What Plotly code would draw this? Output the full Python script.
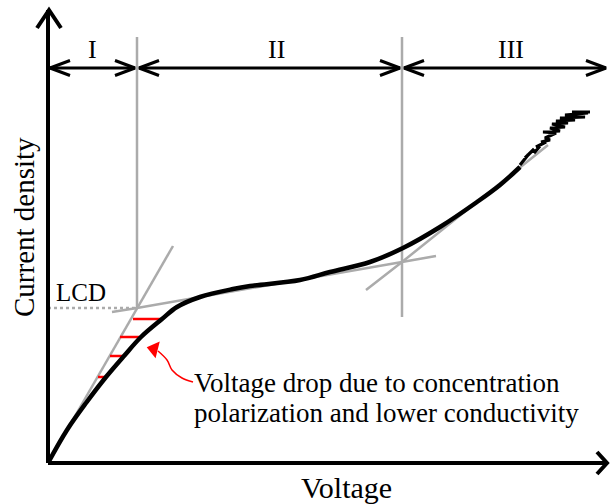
import plotly.graph_objects as go

# ---- data (schematic units: voltage V, current density J) ----
curve_v = [0, 19, 38, 58, 76, 93, 114, 129, 152, 185, 202, 252, 282, 322, 355, 392, 429, 452, 472]
curve_j = [0, 33, 60, 86, 107, 126, 144, 156, 166, 174, 177, 183, 191, 201, 215, 236, 261, 278, 296]
noise_v = [472, 480, 477, 485, 487, 492, 488, 498, 493, 502, 497, 508, 495, 512, 502, 517, 504, 520, 508, 527, 512, 537, 517, 540, 524, 542]
noise_j = [298, 308, 305, 313, 311, 317, 316, 321, 321, 323, 325, 330, 331, 332, 335, 336, 339, 340, 342, 343, 345, 346, 348, 350, 351, 351]

region_bounds = [0, 89, 354, 560]
region_labels = ["I", "II", "III"]
lcd_v, lcd_j = 89, 155
tangent1_v = [0, 89, 125]
tangent1_j = [0, 155, 217]
tangent2_v = [64, 89, 354, 388]
tangent2_j = [151, 155, 201, 207]
tangent3_v = [318, 354, 500]
tangent3_j = [173, 201, 318]
red_j = [144, 126, 107, 86]
red_v0 = [85, 72, 62, 50]
red_v1 = [114, 93, 76, 58]
note_v = [145, 134, 124, 119, 110]
note_j = [81, 85, 93, 103, 112]

BLACK = "black"
GRAY = "#ababab"
RED = "#ff0000"
FONT = "Liberation Serif"

fig = go.Figure()

def line(xs, ys, color, width, dash="solid", shape="linear"):
    fig.add_trace(go.Scatter(x=xs, y=ys, mode="lines",
                             line=dict(color=color, width=width, dash=dash, shape=shape),
                             hoverinfo="skip"))

top_j = 426
arrow_j = 395
# vertical region boundaries (gray)
line([region_bounds[1], region_bounds[1]], [top_j, lcd_j], GRAY, 2.5)
line([region_bounds[2], region_bounds[2]], [top_j, 146], GRAY, 2.5)
# LCD dotted line
line([0, lcd_v], [lcd_j, lcd_j], GRAY, 2.5, dash="dot")
# tangent lines
line(tangent1_v, tangent1_j, GRAY, 2.5)
line(tangent2_v, tangent2_j, GRAY, 2.5)
line(tangent3_v, tangent3_j, GRAY, 2.5)
# red voltage-drop lines
for j, a, b in zip(red_j, red_v0, red_v1):
    line([a, b], [j, j], RED, 2.5)
# main curve
line(curve_v, curve_j, BLACK, 4.5, shape="spline")
line(noise_v, noise_j, BLACK, 3.2)

# axes with arrowheads
line([0, 0], [0, 453], BLACK, 4)
line([0, 559], [0, 0], BLACK, 4)
line([-11, 1, 13], [435, 453, 435], BLACK, 4)
line([549, 559, 549], [11, 0, -11], BLACK, 4)

# region double arrows
for i in range(3):
    a = region_bounds[i] + 2
    b = region_bounds[i + 1] - 2
    line([a, b], [arrow_j, arrow_j], BLACK, 3)
    line([a + 20, a, a + 20], [arrow_j + 7.5, arrow_j, arrow_j - 7.5], BLACK, 3)
    line([b - 20, b, b - 20], [arrow_j + 7.5, arrow_j, arrow_j - 7.5], BLACK, 3)

# red curved arrow
line(note_v, note_j, RED, 1.5, shape="spline")
fig.add_trace(go.Scatter(x=[106], y=[114], mode="markers",
                         marker=dict(symbol="triangle-up", size=15, color=RED, angle=-76),
                         hoverinfo="skip"))

ann = []
def text(x, y, s, size, xanchor="center", angle=0):
    ann.append(dict(x=x, y=y, xref="x", yref="y", text=s, showarrow=False,
                    xanchor=xanchor, yanchor="middle", textangle=angle,
                    font=dict(family=FONT, size=size, color="black")))

label_v = [44, 228, 463]
for v, s in zip(label_v, region_labels):
    text(v, 414, s, 26)
text(33, 171, "LCD", 25)
text(144, 80, "Voltage drop due to concentration", 27, xanchor="left")
text(144, 50, "polarization and lower conductivity", 27, xanchor="left")
text(298, -24, "Voltage", 30)
text(-24, 236, "Current density", 29, angle=-90)

fig.update_layout(
    width=610, height=504,
    margin=dict(l=0, r=0, t=0, b=0),
    paper_bgcolor="white", plot_bgcolor="white",
    showlegend=False,
    annotations=ann,
    xaxis=dict(range=[-48, 562], visible=False, fixedrange=True),
    yaxis=dict(range=[-41, 463], visible=False, fixedrange=True),
)

fig.write_html("out.html")
